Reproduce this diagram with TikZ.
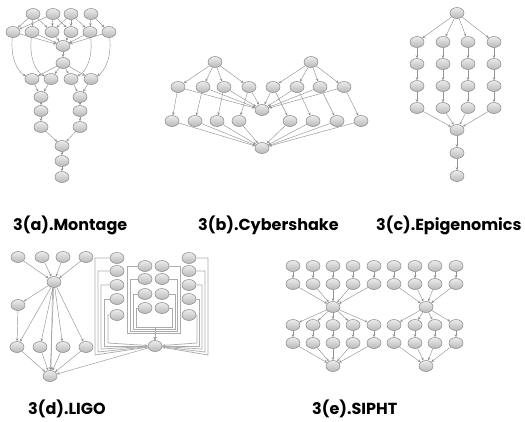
\documentclass[tikz,border=0pt]{standalone}
\usepackage{fontspec}
\setsansfont{Poppins}
\usepackage{tikz}
\usetikzlibrary{shapes.geometric,arrows.meta,positioning,calc,backgrounds}

\begin{document}
\begin{tikzpicture}[
    x=1pt, y=-1pt,
    task/.style={ellipse, draw=gray!90, top color=gray!15, bottom color=gray!55, minimum width=14pt, minimum height=11pt, inner sep=0pt, line width=0.55pt},
    line/.style={draw=gray!85, line width=0.45pt, -{Stealth[length=3pt,width=2.6pt]}},
    wire/.style={draw=gray!65, line width=0.75pt, -{Stealth[length=3pt,width=2.6pt]}},
    caption/.style={font=\sffamily\bfseries\fontsize{16}{18}\selectfont, anchor=base west, inner sep=0pt}
]
\useasboundingbox (0,0) rectangle (525,421);

% Montage
\foreach \i/\x in {1/33,2/53,3/71,4/91} \node[task] (ma\i) at (\x,14) {};
\foreach \i/\x in {1/13,2/32,3/52,4/71,5/90,6/109} \node[task] (mb\i) at (\x,32) {};
\node[task] (mc) at (63,46) {};
\node[task] (md) at (63,63) {};
\foreach \i/\x in {1/32,2/51,3/71,4/91} \node[task] (me\i) at (\x,79) {};
\foreach \i/\x in {1/41,2/80} {
  \node[task] (mf\i) at (\x,97) {};
  \node[task] (mg\i) at (\x,111) {};
  \node[task] (mh\i) at (\x,127) {};
}
\node[task] (mi) at (62,146) {};
\node[task] (mj) at (62,161) {};
\node[task] (mk) at (62,177) {};

% Cybershake
\node[task] (ca1) at (215,62) {};
\node[task] (ca2) at (311,62) {};
\foreach \i/\x in {1/178,2/203,3/224,4/249,5/273,6/297,7/320,8/344} \node[task] (cb\i) at (\x,87) {};
\node[task] (cm) at (262,110) {};
\foreach \i/\x in {1/172,2/195,3/217,4/239,5/290,6/313,7/337,8/361} \node[task] (cc\i) at (\x,121) {};
\node[task] (cz) at (262,148) {};

% Epigenomics
\node[task] (ea) at (457,13) {};
\foreach \c/\x in {1/417,2/443,3/468,4/494} {
  \foreach \r/\y in {1/42,2/64,3/86,4/108} \node[task] (e\r\c) at (\x,\y) {};
}
\node[task] (em) at (457,130) {};
\node[task] (en) at (457,153) {};
\node[task] (eo) at (457,176) {};

% LIGO
\foreach \i/\x in {1/18,2/42,3/63,4/86} \node[task] (la\i) at (\x,257) {};
\node[task] (lh) at (54,282) {};
\node[task] (ls) at (18,305) {};
\foreach \i/\x in {1/17,2/40,3/63,4/86} \node[task] (lb\i) at (\x,347) {};
\node[task] (lz) at (50,376) {};
\foreach \i/\y in {1/258,2/271,3/285,4/299,5/315} {
  \node[task] (rl\i) at (117,\y) {};
  \node[task] (rr\i) at (189,\y) {};
}
\foreach \i/\y in {1/266,2/279,3/294,4/308} {
  \node[task] (ril\i) at (145,\y) {};
  \node[task] (rir\i) at (162,\y) {};
}
\node[task] (rh) at (155,346) {};

% SIPHT
\foreach \i/\x in {1/293,2/313,3/333,4/353,5/374} {
  \node[task] (sa\i) at (\x,266) {};
  \node[task] (sb\i) at (\x,284) {};
  \node[task] (sc\i) at (\x,325) {};
  \node[task] (sd\i) at (\x,343) {};
}
\node[task] (sh) at (333,307) {};
\node[task] (sz) at (333,366) {};
\foreach \i/\x in {1/394,2/415,3/435,4/456} {
  \node[task] (ta\i) at (\x,266) {};
  \node[task] (tb\i) at (\x,284) {};
  \node[task] (tc\i) at (\x,325) {};
  \node[task] (td\i) at (\x,343) {};
}
\node[task] (th) at (426,307) {};
\node[task] (tz) at (426,366) {};

% Captions
\node[caption] (capa) at (13,230) {3(a).Montage};
\node[caption] (capb) at (198,230) {3(b).Cybershake};
\node[caption] (capc) at (376,230) {3(c).Epigenomics};
\node[caption] (capd) at (28,414) {3(d).LIGO};
\node[caption] (cape) at (312,414) {3(e).SIPHT};

% Connections
\begin{scope}[on background layer]
% Montage
\foreach \a/\b in {1/1,1/2,1/3,2/1,2/3,2/4,3/3,3/4,3/5,4/5,4/6} \path[line] (ma\a) -- (mb\b);
\foreach \b in {1,...,6} \path[line] (mb\b) -- (mc);
\path[line] (mc) -- (md);
\foreach \e in {1,...,4} \path[line] (md) -- (me\e);
\path[line] (mb1) .. controls (10,58) and (18,72) .. (me1);
\path[line] (mb2) .. controls (29,58) and (36,72) .. (me2);
\path[line] (mb5) .. controls (93,58) and (86,72) .. (me3);
\path[line] (mb6) .. controls (112,58) and (104,72) .. (me4);
\path[line] (me1) -- (mf1);
\path[line] (me2) -- (mf1);
\path[line] (me3) -- (mf2);
\path[line] (me4) -- (mf2);
\foreach \i in {1,2} {
  \path[line] (mf\i) -- (mg\i);
  \path[line] (mg\i) -- (mh\i);
  \path[line] (mh\i) -- (mi);
}
\path[line] (mi) -- (mj);
\path[line] (mj) -- (mk);

% Cybershake
\foreach \i in {1,...,4} \path[line] (ca1) -- (cb\i);
\foreach \i in {5,...,8} \path[line] (ca2) -- (cb\i);
\foreach \i in {1,...,8} {
  \path[line] (cb\i) -- (cc\i);
  \path[line] (cb\i) -- (cm);
  \path[line] (cc\i) -- (cz);
}

% Epigenomics
\foreach \c in {1,...,4} {
  \path[line] (ea) -- (e1\c);
  \foreach \r/\s in {1/2,2/3,3/4} \path[line] (e\r\c) -- (e\s\c);
  \path[line] (e4\c) -- (em);
}
\path[line] (em) -- (en);
\path[line] (en) -- (eo);

% LIGO
\foreach \i in {1,...,4} {
  \path[line] (la\i) -- (lh);
  \path[line] (lb\i) -- (lz);
}
\path[line] (lh) -- (ls);
\path[line] (ls) -- (lb1);
\foreach \i in {1,...,4} \path[line] (lh) -- (lb\i);
\path[line] (lh) -- (lz);
\path[line] (lh.-105) -- (lz.80);
\path[line] (rh) -- (lz);
\foreach \i/\x/\y in {1/95/355,2/98/352,3/101/349,4/104/346,5/108/343}
  \path[wire] (rl\i.west) -| (\x,\y) -- (rh);
\foreach \i/\x/\y in {1/208/355,2/205/352,3/202/349,4/199/346,5/197/343}
  \path[wire] (rr\i.east) -| (\x,\y) -- (rh);
\foreach \i/\x/\y in {1/127/333,2/130/331,3/133/329,4/136/327}
  \path[wire] (ril\i.west) -| (\x,\y) -| (rh);
\foreach \i/\x/\y in {1/180/333,2/177/331,3/175/329,4/172/327}
  \path[wire] (rir\i.east) -| (\x,\y) -| (rh);

% SIPHT
\foreach \i in {1,...,5} {
  \path[line] (sa\i) -- (sb\i);
  \path[line] (sb\i) -- (sh);
  \path[line] (sh) -- (sc\i);
  \path[line] (sc\i) -- (sd\i);
  \path[line] (sd\i) -- (sz);
}
\foreach \i in {1,...,4} {
  \path[line] (ta\i) -- (tb\i);
  \path[line] (tb\i) -- (th);
  \path[line] (th) -- (tc\i);
  \path[line] (tc\i) -- (td\i);
  \path[line] (td\i) -- (tz);
}
\end{scope}
\end{tikzpicture}
\end{document}
